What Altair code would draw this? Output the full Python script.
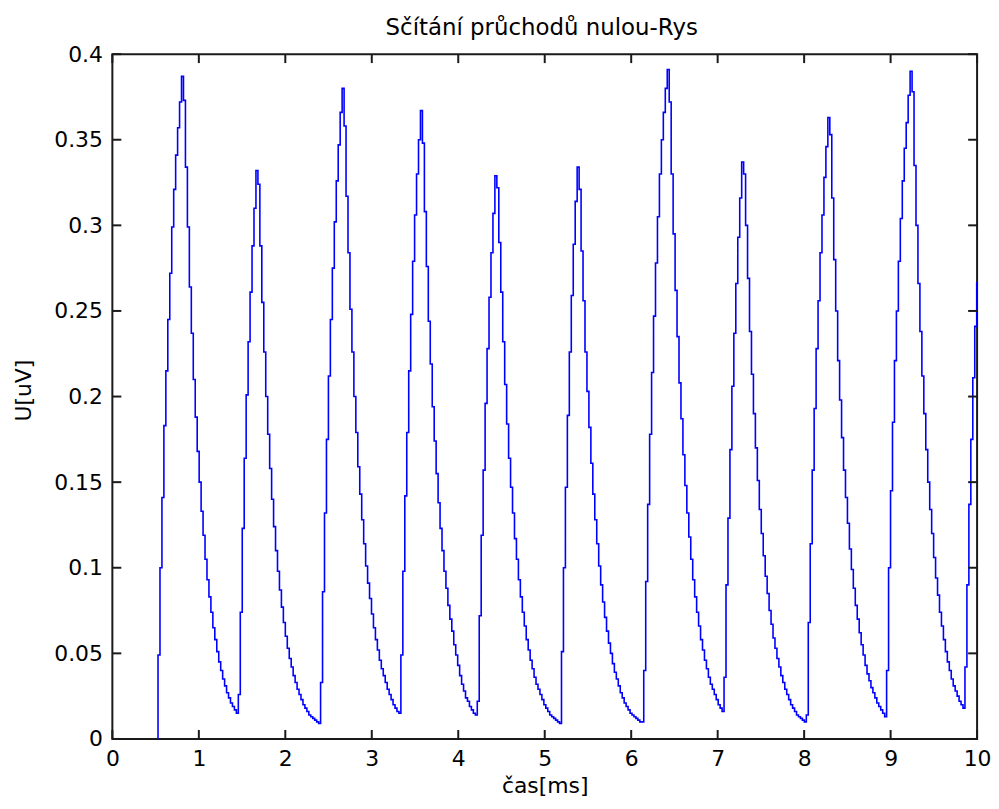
import altair as alt
import pandas as pd

T0 = 0.528      # time of first sample [ms]
DT = 0.02265    # sample spacing [ms]

rise_01 = [0.049, 0.100, 0.141, 0.183, 0.215, 0.245, 0.272, 0.299, 0.321, 0.341, 0.357, 0.372, 0.387]
decay_01 = [0.373, 0.334, 0.299, 0.264, 0.237, 0.210, 0.188, 0.168, 0.150, 0.133, 0.119, 0.105, 0.093, 0.083,
            0.074, 0.065, 0.058, 0.051, 0.045, 0.040, 0.035, 0.031, 0.027, 0.024, 0.021, 0.019, 0.017, 0.015]
rise_02 = [0.026, 0.074, 0.123, 0.164, 0.201, 0.232, 0.261, 0.288, 0.310, 0.332]
decay_02 = [0.324, 0.288, 0.255, 0.226, 0.200, 0.178, 0.158, 0.140, 0.124, 0.110, 0.098, 0.087, 0.077, 0.068,
            0.060, 0.053, 0.047, 0.042, 0.037, 0.033, 0.029, 0.026, 0.023, 0.020, 0.018, 0.016, 0.014, 0.013,
            0.012, 0.011, 0.010, 0.009]
rise_03 = [0.033, 0.086, 0.132, 0.175, 0.212, 0.245, 0.275, 0.302, 0.326, 0.347, 0.366, 0.380]
decay_03 = [0.358, 0.317, 0.284, 0.251, 0.226, 0.200, 0.179, 0.159, 0.143, 0.128, 0.114, 0.101, 0.091, 0.082,
            0.073, 0.065, 0.058, 0.052, 0.046, 0.041, 0.037, 0.033, 0.029, 0.026, 0.023, 0.020, 0.018, 0.016, 0.015]
rise_04 = [0.049, 0.098, 0.142, 0.179, 0.215, 0.248, 0.279, 0.306, 0.330, 0.350, 0.367]
decay_04 = [0.348, 0.308, 0.276, 0.244, 0.219, 0.194, 0.174, 0.155, 0.138, 0.123, 0.110, 0.098, 0.088, 0.078,
            0.070, 0.063, 0.055, 0.049, 0.043, 0.037, 0.032, 0.028, 0.024, 0.022, 0.019, 0.017, 0.015, 0.014]
rise_05 = [0.022, 0.072, 0.119, 0.157, 0.196, 0.228, 0.258, 0.284, 0.307, 0.329]
decay_05 = [0.322, 0.290, 0.261, 0.232, 0.207, 0.184, 0.164, 0.147, 0.132, 0.117, 0.105, 0.093, 0.083, 0.074,
            0.066, 0.058, 0.052, 0.046, 0.041, 0.036, 0.032, 0.029, 0.026, 0.023, 0.020, 0.018, 0.016, 0.014,
            0.013, 0.012, 0.011, 0.010, 0.009]
rise_06 = [0.051, 0.100, 0.147, 0.189, 0.226, 0.259, 0.289, 0.314, 0.334]
decay_06 = [0.321, 0.285, 0.256, 0.226, 0.203, 0.182, 0.161, 0.143, 0.128, 0.114, 0.101, 0.090, 0.080, 0.071,
            0.063, 0.056, 0.050, 0.044, 0.039, 0.035, 0.031, 0.027, 0.024, 0.021, 0.019, 0.017, 0.015, 0.014,
            0.013, 0.012, 0.011, 0.010, 0.010]
rise_07 = [0.040, 0.092, 0.137, 0.178, 0.214, 0.247, 0.278, 0.305, 0.330, 0.350, 0.366, 0.380, 0.391]
decay_07 = [0.372, 0.330, 0.295, 0.262, 0.235, 0.208, 0.187, 0.166, 0.148, 0.132, 0.118, 0.105, 0.093, 0.083,
            0.074, 0.066, 0.058, 0.052, 0.046, 0.041, 0.036, 0.032, 0.029, 0.026, 0.023, 0.020, 0.018, 0.016]
rise_08 = [0.036, 0.090, 0.129, 0.169, 0.206, 0.237, 0.266, 0.293, 0.316, 0.337]
decay_08 = [0.330, 0.300, 0.269, 0.238, 0.213, 0.190, 0.170, 0.151, 0.134, 0.120, 0.107, 0.095, 0.085, 0.075,
            0.067, 0.059, 0.053, 0.047, 0.042, 0.037, 0.033, 0.029, 0.026, 0.023, 0.020, 0.018, 0.016, 0.014,
            0.013, 0.012, 0.011, 0.010]
rise_09 = [0.014, 0.068, 0.114, 0.157, 0.193, 0.228, 0.256, 0.284, 0.306, 0.328, 0.346, 0.363]
decay_09 = [0.353, 0.316, 0.280, 0.250, 0.221, 0.198, 0.176, 0.157, 0.141, 0.126, 0.111, 0.099, 0.088, 0.078,
            0.070, 0.062, 0.055, 0.049, 0.043, 0.038, 0.034, 0.030, 0.027, 0.024, 0.021, 0.019, 0.017, 0.015, 0.013]
rise_10 = [0.040, 0.100, 0.145, 0.185, 0.221, 0.250, 0.279, 0.304, 0.326, 0.345, 0.360, 0.376, 0.390]
decay_10 = [0.378, 0.335, 0.300, 0.266, 0.238, 0.212, 0.190, 0.169, 0.150, 0.134, 0.120, 0.106, 0.094, 0.084,
            0.074, 0.066, 0.058, 0.051, 0.045, 0.040, 0.035, 0.031, 0.028, 0.025, 0.022, 0.020, 0.018]
rise_11 = [0.042, 0.090, 0.137, 0.175, 0.211, 0.241, 0.267]

x_ticks = [0, 1, 2, 3, 4, 5, 6, 7, 8, 9, 10]
y_ticks = [0, 0.05, 0.1, 0.15, 0.2, 0.25, 0.3, 0.35, 0.4]

TITLE = "Sčítání průchodů nulou-Rys"
X_TITLE = "čas[ms]"
Y_TITLE = "U[uV]"

# ---- build table ----
samples = (rise_01 + decay_01 + rise_02 + decay_02 + rise_03 + decay_03 + rise_04 + decay_04 +
           rise_05 + decay_05 + rise_06 + decay_06 + rise_07 + decay_07 + rise_08 + decay_08 +
           rise_09 + decay_09 + rise_10 + decay_10 + rise_11)
times = [T0] + [T0 + i * DT for i in range(len(samples))]
values = [0.0] + samples
df = pd.DataFrame({"t": times, "u": values})
df_xt = pd.DataFrame({"t": x_ticks})
df_yt = pd.DataFrame({"u": y_ticks})
df_title = pd.DataFrame({"label": [TITLE]})

W, H = 870, 689
FONT = "DejaVu Sans"
TICK = 9
FRAME = "#1a1a1a"

xscale = alt.Scale(domain=[0, 10], nice=False, zero=False)
yscale = alt.Scale(domain=[0, 0.4], nice=False, zero=False)
xaxis = alt.Axis(values=x_ticks, format="d", grid=False, ticks=False, tickSize=0, domain=False,
                 labelFont=FONT, labelFontSize=22, labelColor="black", labelPadding=10,
                 labelFlush=False, labelOverlap=False,
                 title=X_TITLE, titleFont=FONT, titleFontSize=22, titleFontWeight="normal",
                 titleColor="black", titleBaseline="alphabetic", titleAlign="center",
                 titleX=W / 2, titleY=54)
yaxis = alt.Axis(values=y_ticks, format="~r", grid=False, ticks=False, tickSize=0, domain=False,
                 labelFont=FONT, labelFontSize=22, labelColor="black", labelPadding=10,
                 labelFlush=False, labelOverlap=False,
                 title=Y_TITLE, titleFont=FONT, titleFontSize=22, titleFontWeight="normal",
                 titleColor="black", titleBaseline="alphabetic", titleAlign="center", titleAngle=-90,
                 titleX=-82, titleY=338)

X = alt.X("t:Q", scale=xscale, axis=xaxis)
Y = alt.Y("u:Q", scale=yscale, axis=yaxis)

line = alt.Chart(df).mark_line(interpolate="step-after", color="#0000ff", strokeWidth=1.6,
                               clip=True).encode(x=X, y=Y)

bottom_ticks = alt.Chart(df_xt).mark_rule(color=FRAME, strokeWidth=2).encode(
    x=X, y=alt.value(H), y2=alt.value(H - TICK))
top_ticks = alt.Chart(df_xt).mark_rule(color=FRAME, strokeWidth=2).encode(
    x=X, y=alt.value(0), y2=alt.value(TICK))
left_ticks = alt.Chart(df_yt).mark_rule(color=FRAME, strokeWidth=2).encode(
    y=Y, x=alt.value(0), x2=alt.value(TICK))
right_ticks = alt.Chart(df_yt).mark_rule(color=FRAME, strokeWidth=2).encode(
    y=Y, x=alt.value(W), x2=alt.value(W - TICK))

title = alt.Chart(df_title).mark_text(font=FONT, fontSize=23, color="black", align="center",
                                      baseline="alphabetic").encode(
    text="label:N", x=alt.value(W / 2 - 3), y=alt.value(-19))

chart = alt.layer(line, bottom_ticks, top_ticks, left_ticks, right_ticks, title).properties(
    width=W, height=H,
    autosize=alt.AutoSizeParams(type="none"),
    padding={"left": 105, "top": 44, "right": 14, "bottom": 60},
).configure(background="white").configure_view(stroke=FRAME, strokeWidth=2)

chart.save("out.html", embed_options={"renderer": "svg", "actions": False})
